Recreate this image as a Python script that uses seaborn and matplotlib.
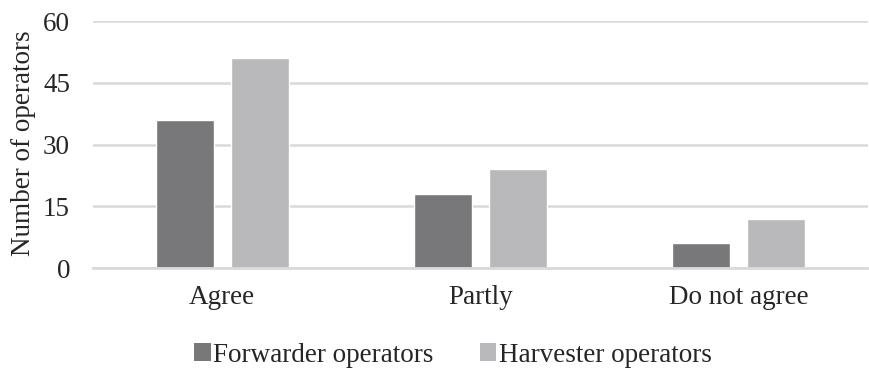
import matplotlib
matplotlib.use("Agg")
import matplotlib.pyplot as plt
import seaborn as sns
import pandas as pd
from matplotlib.patches import Patch

categories = ["Agree", "Partly", "Do not agree"]
series_names = ["Forwarder operators", "Harvester operators"]
forwarder = [36, 18, 6]
harvester = [51, 24, 12]
yticks = [0, 15, 30, 45, 60]

df = pd.DataFrame({
    "category": categories * 2,
    "group": [series_names[0]] * 3 + [series_names[1]] * 3,
    "value": forwarder + harvester,
})

sns.set_style("white")
plt.rcParams['font.family'] = ['Liberation Serif', 'DejaVu Serif']
colors = ["#78787b", "#b9b9bc"]
fs = 19.5

fig = plt.figure(figsize=(8.69, 3.71), dpi=100)
ax = fig.add_axes([93/869, 1 - 268/371, (868-93)/869, (268-21)/371])
sns.barplot(data=df, x="category", y="value", hue="group", order=categories,
            hue_order=series_names, palette=colors, width=0.58, gap=0.227,
            saturation=1, ax=ax, legend=False)
ax.set_ylim(0, 60)
ax.set_xlim(-0.5, 2.5)
ax.set_yticks(yticks)
ax.set_yticklabels([str(v) for v in yticks], fontsize=fs)
ax.tick_params(axis='x', labelsize=fs, length=0, pad=12)
ax.tick_params(axis='y', length=0, pad=16.5)
ax.set_xlabel("")
ax.set_ylabel("Number of operators", fontsize=fs)
ax.yaxis.set_label_coords((36 - 93) / 775, (268 - 143) / 247)
ax.yaxis.grid(True, color="#d9d9d9", linewidth=1.8)
ax.set_axisbelow(True)
for s in ["top", "right", "left"]:
    ax.spines[s].set_visible(False)
ax.spines["bottom"].set_color("#d9d9d9")
ax.spines["bottom"].set_linewidth(2)

handles = [Patch(facecolor=c, edgecolor="none") for c in colors]
fig.legend(handles, series_names, loc="center", bbox_to_anchor=(453/869, 1 - 355/371),
           ncol=2, frameon=False, fontsize=fs, handlelength=0.6, handleheight=0.6,
           handletextpad=0.1, columnspacing=1.7)

fig.savefig("out.png", dpi=100)
